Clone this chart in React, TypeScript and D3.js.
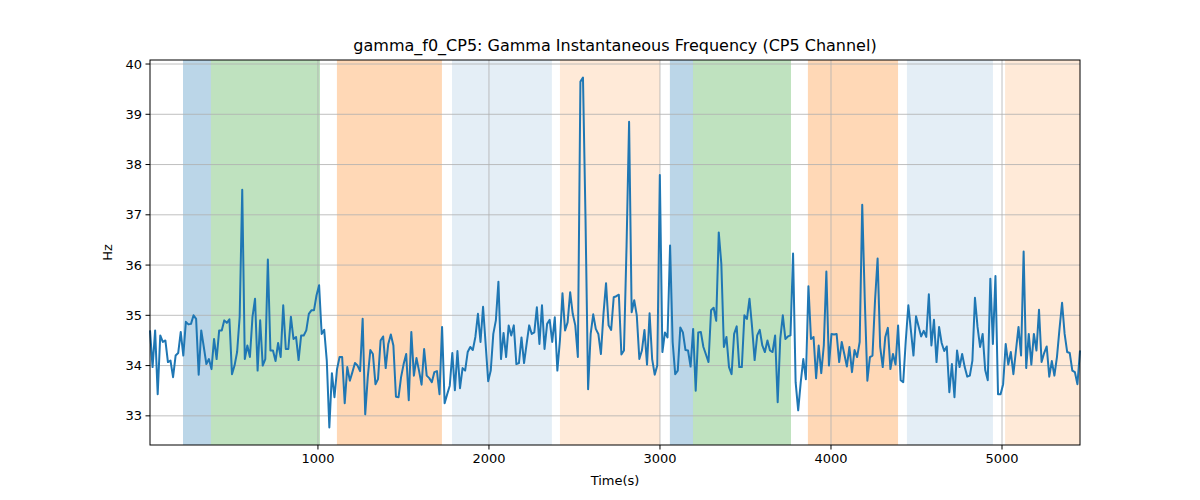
import * as d3 from 'd3';

// Gamma instantaneous frequency values (Hz), evenly sampled from T_START to T_END
const T_START = 18;
const T_END = 5456;
const freqHz: number[] = [
  34.7, 33.97, 34.7, 33.43, 34.6, 34.47, 34.5, 34.07, 34.1, 33.77, 34.2, 34.25, 34.67, 34.2, 34.87, 34.82, 34.83, 35.0, 34.93, 33.82,
  34.7, 34.37, 34.03, 34.13, 33.93, 34.53, 34.13, 34.7, 34.7, 34.9, 34.85, 34.92, 33.83, 34.0, 34.27, 34.97, 37.5, 34.13, 34.4, 34.17,
  34.97, 35.33, 33.9, 34.9, 34.0, 34.13, 36.11, 34.3, 34.3, 34.09, 34.45, 34.17, 35.2, 34.33, 34.33, 34.97, 34.53, 34.57, 34.11, 34.6,
  34.6, 34.7, 35.03, 35.1, 35.1, 35.4, 35.6, 34.63, 34.71, 34.1, 32.77, 33.85, 33.37, 33.93,
  34.17, 34.17, 33.25, 33.97, 33.7, 33.87, 34.05, 34.0, 33.89, 34.93, 33.03, 33.77, 34.31, 34.23, 33.63, 33.73, 34.5, 34.58, 33.95, 34.43,
  34.62, 34.4, 33.38, 33.37, 33.77, 34.03, 34.23, 33.31, 34.67, 33.8, 34.15, 33.9, 33.62, 34.33, 33.8, 33.75, 33.67, 33.87, 33.89, 33.43,
  34.77, 33.25, 33.43, 33.6, 34.25, 33.51, 34.29, 33.55, 33.95, 33.9, 34.27, 34.37, 34.31, 34.57, 35.03, 34.47, 35.17, 34.43, 33.69, 33.9,
  34.63, 34.9, 35.67, 34.13, 34.65, 34.17, 34.8, 34.6, 34.8, 34.03,
  34.05, 34.56, 34.05, 34.43, 34.8, 34.63, 34.66, 35.16, 34.43, 35.2, 34.33, 34.83, 34.91, 34.47, 34.96, 33.9, 34.5, 35.44, 34.7, 34.86,
  35.46, 35.03, 34.8, 34.17, 39.65, 39.73, 36.89, 33.53, 34.63, 35.02, 34.73, 34.63, 34.23, 35.03, 35.64, 34.8, 34.71, 35.36, 35.38, 35.41,
  34.22, 34.3, 36.36, 38.85, 35.06, 35.3, 35.0, 34.13, 34.3, 34.71, 34.02, 35.04, 34.13, 33.82, 34.0, 37.79, 34.27, 34.66, 34.56, 36.39,
  34.47, 33.83, 33.9, 34.76, 34.66, 34.31, 34.3, 33.98, 34.73, 33.5, 34.66,
  34.67, 34.37, 34.22, 34.07, 35.1, 35.15, 34.89, 36.65, 36.03, 34.37, 34.57, 33.97, 33.83, 34.63, 34.78, 33.97, 33.97, 35.0, 34.93, 35.33,
  34.77, 34.11, 34.6, 34.71, 34.4, 34.27, 34.5, 34.3, 34.27, 34.6, 33.27, 34.53, 35.0, 34.53, 34.58, 34.6, 36.23, 33.67, 33.11, 33.67,
  34.13, 33.73, 35.58, 34.53, 34.57, 33.75, 34.4, 33.85, 34.4, 35.87, 34.0, 34.63, 34.62, 34.63, 34.07, 34.47, 34.23, 33.98, 34.37, 33.87,
  34.31, 34.17, 34.47, 37.2, 35.3, 33.7, 34.17, 34.2, 35.3, 36.13, 34.37, 33.97, 34.57, 34.75,
  33.93, 34.23, 34.02, 34.8, 33.71, 33.67, 34.5, 35.2, 34.7, 34.2, 34.98, 34.78, 34.58, 34.69, 34.57, 35.42, 34.4, 34.91, 34.07, 34.77,
  34.45, 34.29, 34.38, 33.47, 34.03, 33.37, 34.3, 33.97, 34.23, 33.97, 33.78, 33.8, 34.1, 35.35, 34.77, 34.37, 34.63, 33.91, 33.71, 35.73,
  34.43, 35.78, 33.43, 33.43, 33.63, 34.43, 34.02, 34.27, 33.83, 34.3, 34.77, 34.2, 36.27, 33.95, 34.63, 34.02, 34.63, 34.3, 35.11, 34.07,
  34.25, 34.38, 33.78, 34.09, 33.8, 34.17, 34.73, 35.25, 34.63, 34.27, 34.25, 33.9, 33.87, 33.63, 34.3,
];

// Shaded intervals (seconds)
const spanStart = [211, 374, 1111, 1784, 2415, 3058, 3193, 3865, 4444, 5018];
const spanEnd = [374, 1012, 1725, 2368, 3000, 3193, 3766, 4392, 4947, 5456];
const spanColor = ['#1f77b4', '#2ca02c', '#ff7f0e', '#1f77b4', '#ff7f0e', '#1f77b4', '#2ca02c', '#ff7f0e', '#1f77b4', '#ff7f0e'];
const spanAlpha = [0.3, 0.3, 0.3, 0.12, 0.16, 0.3, 0.3, 0.3, 0.12, 0.16];

const xTicks = [1000, 2000, 3000, 4000, 5000];
const yTicks = [33, 34, 35, 36, 37, 38, 39, 40];

const W = 1200;
const H = 500;
const MARGIN = { top: 60, right: 120, bottom: 55, left: 150 };
const INNER_W = W - MARGIN.left - MARGIN.right;
const INNER_H = H - MARGIN.top - MARGIN.bottom;
const FONT = 'DejaVu Sans, sans-serif';

export default function App() {
  const step = (T_END - T_START) / (freqHz.length - 1);
  const pts = freqHz.map((v, i) => ({ t: T_START + i * step, v }));

  const x = d3.scaleLinear().domain([T_START, T_END]).range([0, INNER_W]);
  const y = d3.scaleLinear().domain([32.42, 40.08]).range([INNER_H, 0]);

  const line = d3.line<{ t: number; v: number }>()
    .x((d) => x(d.t))
    .y((d) => y(d.v));

  return (
    <svg width={W} height={H} style={{ position: 'absolute', left: 0, top: 0, background: '#fff' }}>
      <text x={MARGIN.left + INNER_W / 2} y={51} textAnchor="middle" fontSize={16} fontFamily={FONT}>
        gamma_f0_CP5: Gamma Instantaneous Frequency (CP5 Channel)
      </text>
      <g transform={`translate(${MARGIN.left},${MARGIN.top})`}>
        {spanStart.map((s, i) => (
          <rect
            key={i}
            x={x(s)} y={0}
            width={x(spanEnd[i]) - x(s)} height={INNER_H}
            fill={spanColor[i]} fillOpacity={spanAlpha[i]}
          />
        ))}

        {/* grid */}
        {xTicks.map((t) => (
          <line key={t} x1={x(t)} x2={x(t)} y1={0} y2={INNER_H} stroke="#b0b0b0" strokeWidth={0.8} />
        ))}
        {yTicks.map((t) => (
          <line key={t} x1={0} x2={INNER_W} y1={y(t)} y2={y(t)} stroke="#b0b0b0" strokeWidth={0.8} />
        ))}

        <path d={line(pts) ?? ''} fill="none" stroke="#1f77b4" strokeWidth={2} strokeLinejoin="round" />

        <rect x={0} y={0} width={INNER_W} height={INNER_H} fill="none" stroke="#000" strokeWidth={1} />

        {xTicks.map((t) => (
          <g key={t} transform={`translate(${x(t)},${INNER_H})`}>
            <line y2={4.5} stroke="#000" />
            <text y={18} textAnchor="middle" fontSize={13} fontFamily={FONT}>{t}</text>
          </g>
        ))}
        {yTicks.map((t) => (
          <g key={t} transform={`translate(0,${y(t)})`}>
            <line x2={-4.5} stroke="#000" />
            <text x={-8} dy="0.35em" textAnchor="end" fontSize={13} fontFamily={FONT}>{t}</text>
          </g>
        ))}

        <text x={INNER_W / 2} y={INNER_H + 40} textAnchor="middle" fontSize={13} fontFamily={FONT}>Time(s)</text>
        <text transform={`translate(-38,${INNER_H / 2}) rotate(-90)`} textAnchor="middle" fontSize={13} fontFamily={FONT}>Hz</text>
      </g>
    </svg>
  );
}
